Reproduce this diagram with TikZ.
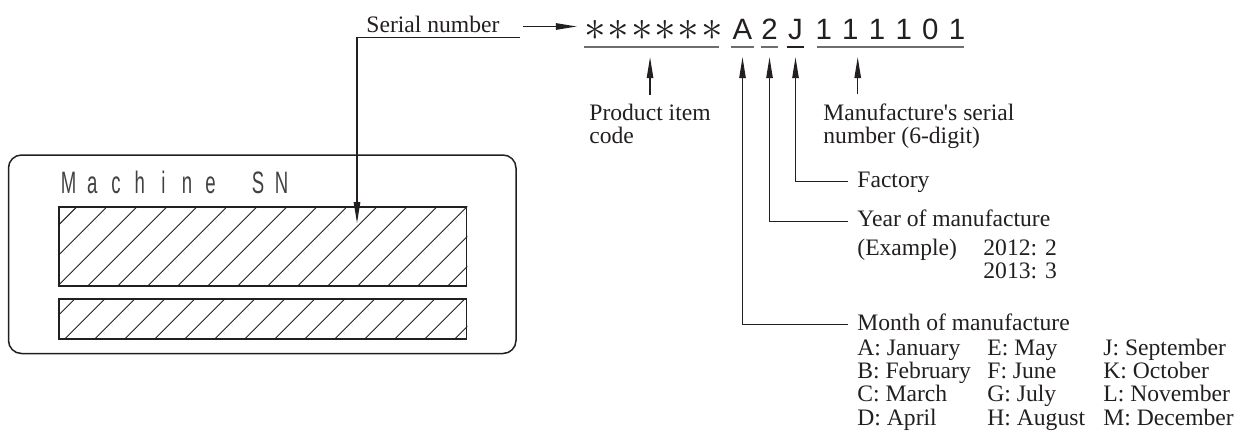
\documentclass[tikz,border=0pt]{standalone}
\usepackage{fontspec}
\setmainfont{Liberation Serif}
\newfontfamily\serialfont{Liberation Sans}
\newfontfamily\platefont[FakeStretch=0.6]{Liberation Sans}
\usetikzlibrary{arrows.meta,calc}
\definecolor{tinta}{RGB}{35,31,32}
\definecolor{sublinha}{RGB}{110,110,110}

% caracteres com passo fixo
\newcommand\pitched[2]{\def\pitchw{#1}\pitchedloop#2\relax}
\newcommand\pitchedloop[1]{\ifx#1\relax\else\makebox[\pitchw]{#1}\expandafter\pitchedloop\fi}
\newcommand\snstar{\raisebox{-0.8pt}{\scalebox{1.5}{$\ast$}}}

\tikzset{
  seta/.style={draw=tinta, line width=0.65pt, -{Triangle[length=10.5pt,width=3.2pt]}},
  sublinhado/.style={draw=sublinha, line width=0.85pt},
  grupo/.style={font=\serialfont\fontsize{14.7}{16}\selectfont, text=tinta, inner sep=0pt, text depth=3.85pt},
  rotulo/.style={inner xsep=4.5pt, inner ysep=0pt, text height=8pt, text depth=2.5pt, anchor=base west},
  bloco/.style={inner xsep=4.5pt, inner ysep=0pt, anchor=base west},
  campo/.style={draw=tinta, line width=0.85pt, inner sep=0pt, minimum width=203.75pt},
  hachura/.style={draw=tinta, line width=0.5pt}
}

\begin{document}
\begin{tikzpicture}[x=0.5pt, y=-0.5pt, font=\fontsize{11.8}{11.67}\selectfont, text=tinta]
    \useasboundingbox (0,0) rectangle (1246,434);

    % --- Parte A: Placa da máquina ---
    \begin{scope}
        % Moldura arredondada
        \draw[tinta, line width=0.75pt, rounded corners=6.5pt] (8.5,155) rectangle (516,353.5);

        % Texto da placa
        \node[font=\platefont\fontsize{15.5}{17}\selectfont, text=tinta!85, inner sep=0pt, anchor=base west] (placa) at (56.5,193) {\pitched{11.83pt}{Machine~SN}};

        % Campos hachurados
        \node[campo, minimum height=39.5pt] (campo1) at (262.75,246.5) {};
        \node[campo, minimum height=20pt] (campo2) at (262.75,319) {};
        \begin{scope}
            \clip (campo1.south west) rectangle (campo1.north east) (campo2.south west) rectangle (campo2.north east);
            \foreach \c in {253.7,283.7,...,823.7}
                \draw[hachura] (\c-180,180) -- (\c-360,360);
        \end{scope}
    \end{scope}

    % --- Parte B: Código do número de série ---
    \begin{scope}
        % Rótulo superior
        \node[rotulo] (sn) at (357,32) {Serial number};

        % Grupos de caracteres
        \node[grupo, anchor=base west] (st) at (583.3,39) {\pitched{11.67pt}{\snstar\snstar\snstar\snstar\snstar\snstar}};
        \node[grupo, anchor=base, minimum width=11.5pt] (mA) at (742.5,39) {A};
        \node[grupo, anchor=base, minimum width=8.5pt] (ano) at (769.5,39) {2};
        \node[grupo, anchor=base, minimum width=8.5pt] (fab) at (795.5,39) {J};
        \node[grupo, anchor=base west] (dig) at (810,39) {\pitched{13.33pt}{111101}};

        % Sublinhados
        \draw[sublinhado, shorten <=0.4pt, shorten >=2.6pt] (st.south west) -- (st.south east);
        \draw[sublinhado] (mA.south west) -- (mA.south east);
        \draw[sublinhado] (ano.south west) -- (ano.south east);
        \draw[sublinhado, draw=tinta] (fab.south west) -- (fab.south east);
        \draw[sublinhado, shorten <=3.5pt, shorten >=3.5pt] (dig.south west) -- (dig.south east);

        % Setas do número de série
        \draw[seta] ([xshift=5.5pt]sn.south east) -- (sn.south west) -- ($(sn.south west |- campo1.north)+(0,17)$);
        \draw[seta] ([xshift=7pt]sn.east) -- ([xshift=-3.2pt]sn.east -| st.west);

        % Textos inferiores
        \node[bloco] (item) at (580,120) {\begin{tabular}[t]{@{}l@{}}Product item\\code\end{tabular}};
        \node[bloco] (serie) at (814,120) {\begin{tabular}[t]{@{}l@{}}Manufacture\textquotesingle s serial\\number (6-digit)\end{tabular}};
        \draw[seta, shorten >=5pt] ([yshift=4.3pt]item.north) -- (item.north |- st.south);
        \draw[seta, shorten >=5pt] ([shift={(21.85pt,4.3pt)}]serie.north west) coordinate (s0) -- (s0 |- dig.south);

        % Fábrica
        \node[rotulo] (fabrica) at (848,187.3) {Factory};
        \draw[seta, shorten >=5pt] (fabrica.west) -| (fab.south);

        % Ano de fabricação
        \node[rotulo] (anofab) at (848,226.7) {Year of manufacture};
        \draw[seta, shorten >=5pt] (anofab.west) -| (ano.south);
        \node[bloco] (exemplo) at (848,255) {\begin{tabular}[t]{@{}p{63pt}@{}l@{}}(Example) & 2012: 2\\ & 2013: 3\end{tabular}};

        % Mês de fabricação
        \node[rotulo] (mes) at (848,330) {Month of manufacture};
        \draw[seta, shorten >=5pt] (mes.west) -| (mA.south);
        \node[bloco] (meses) at (848,355) {\begin{tabular}[t]{@{}p{65pt}@{}p{58pt}@{}l@{}}
            A: January & E: May & J: September\\
            B: February & F: June & K: October\\
            C: March & G: July & L: November\\
            D: April & H: August & M: December
        \end{tabular}};
    \end{scope}

\end{tikzpicture}
\end{document}
